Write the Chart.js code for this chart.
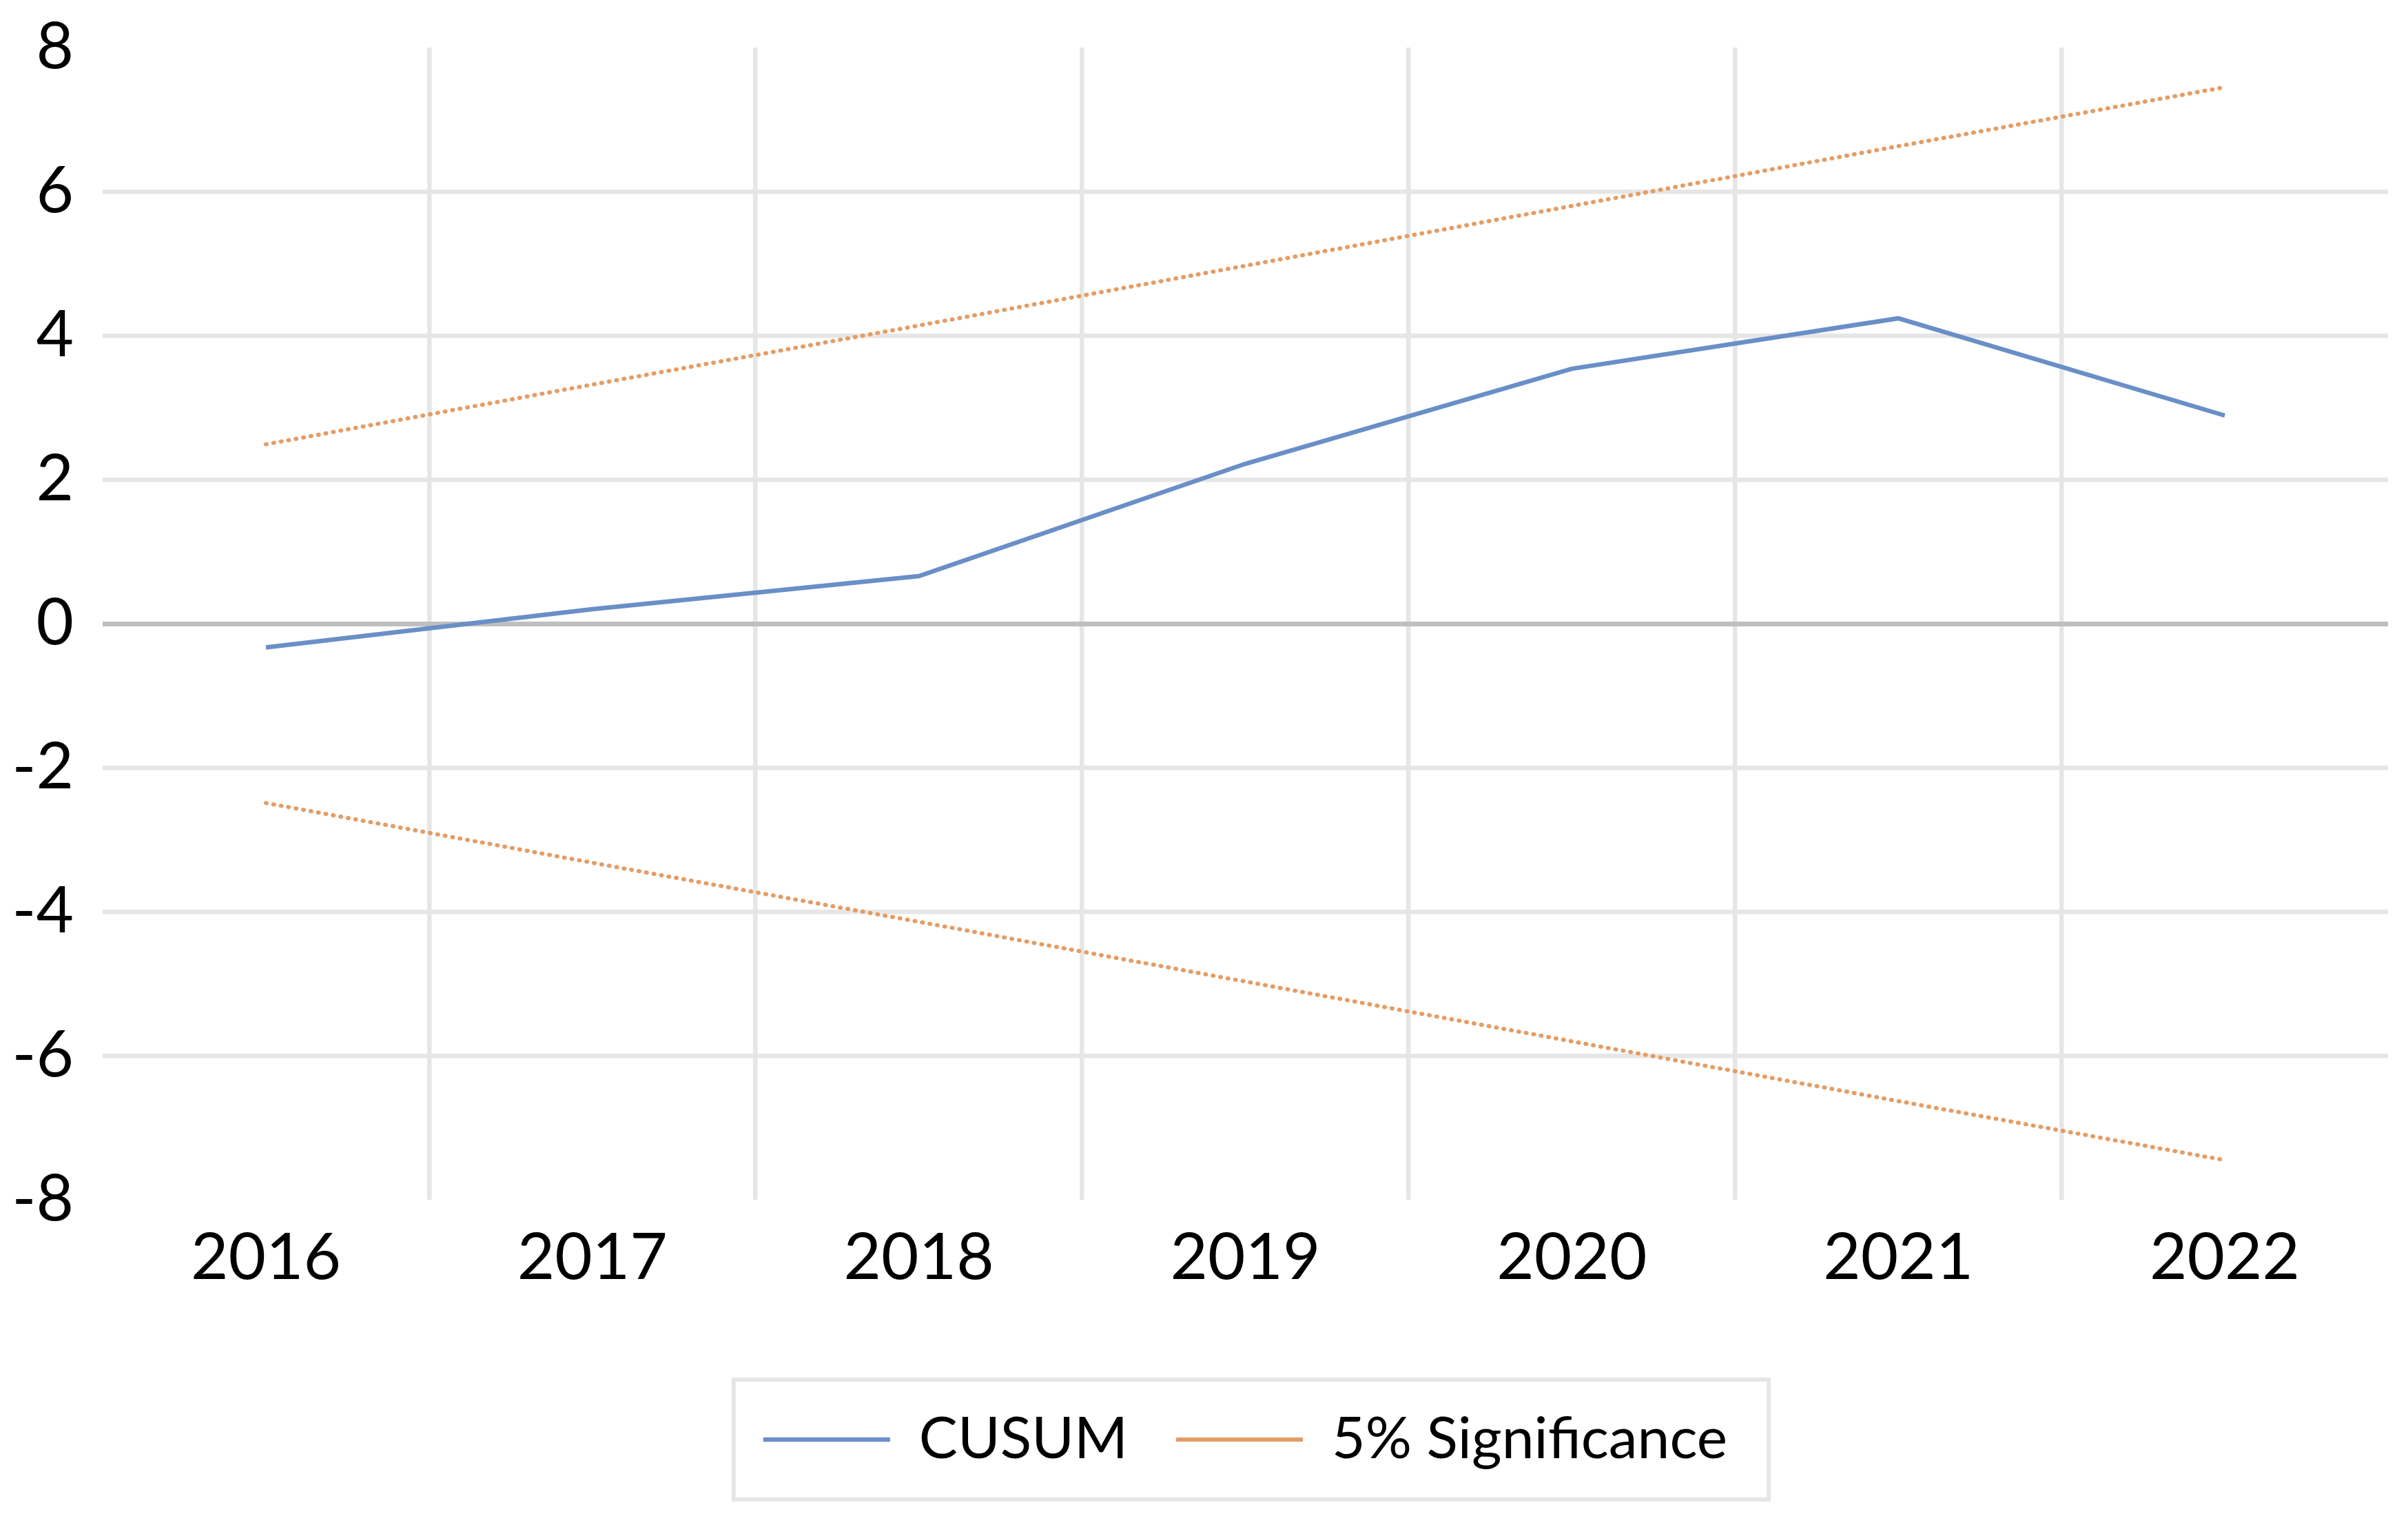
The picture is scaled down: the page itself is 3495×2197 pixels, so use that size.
<!DOCTYPE html>
<html>
<head>
<meta charset="utf-8">
<script src="https://cdn.jsdelivr.net/npm/chart.js@4/dist/chart.umd.min.js"></script>
<style>
  html, body { margin: 0; padding: 0; background: #fff; }
  canvas { display: block; }
</style>
</head>
<body>
<canvas id="cusum-chart" width="3495" height="2197"></canvas>
<script>
// ── Data ──────────────────────────────────────
const years = ['2016', '2017', '2018', '2019', '2020', '2021', '2022'];
const cusum = [-0.33, 0.2, 0.66, 2.22, 3.54, 4.24, 2.89];
const upperBound = [2.49, 3.32, 4.14, 4.97, 5.8, 6.63, 7.45];
const lowerBound = [-2.49, -3.32, -4.14, -4.97, -5.8, -6.63, -7.45];
const yTicks = [-8, -6, -4, -2, 0, 2, 4, 6, 8];

const BLUE = '#6a8fc7';
const ORANGE = '#e59c64';
const GRID = '#e6e6e6';
const FONT = 'Lato, "Open Sans", sans-serif';

// ── Legend frame ──────────────────────────────
const legendFrame = {
  id: 'legendFrame',
  afterDraw(chart) {
    const hb = chart.legend.legendHitBoxes;
    if (!hb || !hb.length) return;
    const first = hb[0], last = hb[hb.length - 1];
    const left = first.left - 43;
    const right = last.left + last.width + 60;
    const cy = first.top + first.height / 2;
    const ctx = chart.ctx;
    ctx.save();
    ctx.strokeStyle = GRID;
    ctx.lineWidth = 6;
    ctx.strokeRect(left, cy - 87, right - left, 174);
    ctx.restore();
  }
};

// ── Chart ─────────────────────────────────────
const ctx = document.getElementById('cusum-chart').getContext('2d');
new Chart(ctx, {
  type: 'line',
  data: {
    labels: years,
    datasets: [
      {
        label: 'CUSUM',
        data: cusum,
        borderColor: BLUE,
        backgroundColor: BLUE,
        borderWidth: 6.5,
        pointRadius: 0,
        tension: 0
      },
      {
        label: '5% Significance',
        data: upperBound,
        borderColor: ORANGE,
        backgroundColor: ORANGE,
        borderWidth: 6,
        borderDash: [1, 10],
        borderCapStyle: 'round',
        pointRadius: 0,
        tension: 0
      },
      {
        label: 'lower',
        data: lowerBound,
        borderColor: ORANGE,
        backgroundColor: ORANGE,
        borderWidth: 6,
        borderDash: [1, 10],
        borderCapStyle: 'round',
        pointRadius: 0,
        tension: 0
      }
    ]
  },
  options: {
    responsive: false,
    animation: false,
    devicePixelRatio: 1,
    layout: { padding: { top: 69, right: 29, bottom: 56, left: 0 } },
    plugins: {
      tooltip: { enabled: false },
      legend: {
        position: 'bottom',
        fullSize: false,
        labels: {
          filter: item => item.datasetIndex !== 2,
          usePointStyle: true,
          pointStyle: 'line',
          pointStyleWidth: 184,
          padding: 70,
          color: '#000',
          font: { family: FONT, size: 84 }
        }
      }
    },
    scales: {
      x: {
        offset: true,
        border: { display: false },
        grid: {
          offset: true,
          drawTicks: false,
          lineWidth: 6.5,
          color: c => (c.type !== 'tick' || c.index === 0) ? 'rgba(0,0,0,0)' : GRID
        },
        ticks: { color: '#000', padding: 28, font: { family: FONT, size: 94 } },
        afterFit: s => { s.height = 236; }
      },
      y: {
        min: -8,
        max: 8,
        border: { display: false },
        afterBuildTicks: s => { s.ticks = yTicks.map(v => ({ value: v })); },
        grid: {
          drawTicks: false,
          lineWidth: c => (c.tick && c.tick.value === 0) ? 7 : 6.5,
          color: c => {
            if (!c.tick) return GRID;
            const v = c.tick.value;
            if (v === 8 || v === -8) return 'rgba(0,0,0,0)';
            return v === 0 ? '#bfbfbf' : GRID;
          }
        },
        ticks: { color: '#000', padding: 42, font: { family: FONT, size: 94 } },
        afterFit: s => {
          s.width = 149;
          s.paddingTop = 0;
          s.paddingBottom = 0;
        }
      }
    }
  },
  plugins: [legendFrame]
});
</script>
</body>
</html>
